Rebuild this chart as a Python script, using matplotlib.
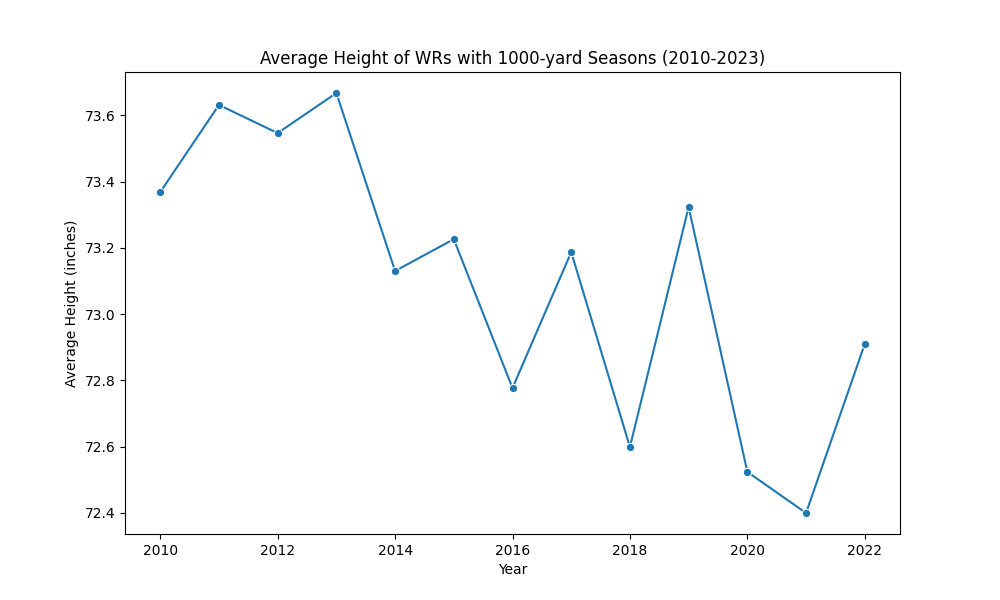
import matplotlib
matplotlib.use("Agg")
import matplotlib.pyplot as plt
import seaborn as sns
import pandas as pd

years = [2010, 2011, 2012, 2013, 2014, 2015, 2016, 2017, 2018, 2019, 2020, 2021, 2022]
avg_height = [73.368, 73.631, 73.546, 73.667, 73.130, 73.226, 72.777, 73.187, 72.599,
              73.323, 72.524, 72.400, 72.910]

df = pd.DataFrame({"Year": years, "Average Height (inches)": avg_height})

fig, ax = plt.subplots(figsize=(10, 6), dpi=100)
sns.lineplot(data=df, x="Year", y="Average Height (inches)", marker="o", ax=ax)
ax.set_title("Average Height of WRs with 1000-yard Seasons (2010-2023)")
ax.set_xlabel("Year")
ax.set_ylabel("Average Height (inches)")
fig.savefig("out.png")
